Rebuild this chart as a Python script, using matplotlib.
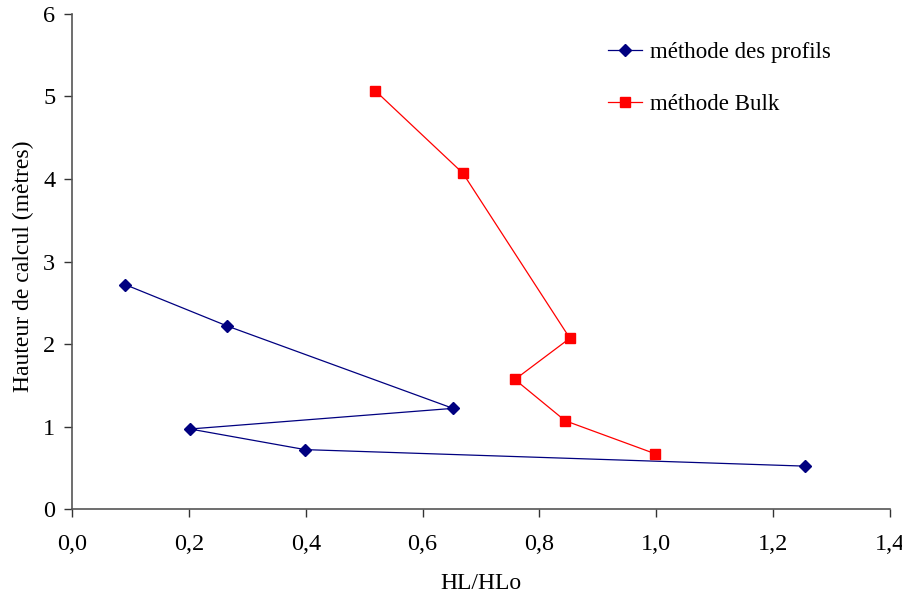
import matplotlib.pyplot as plt
from matplotlib.ticker import FuncFormatter

plt.rcParams['font.family'] = ['Liberation Serif', 'DejaVu Serif']

# méthode des profils
profils_x = [0.091, 0.265, 0.652, 0.202, 0.399, 1.254]
profils_y = [2.72, 2.22, 1.22, 0.97, 0.72, 0.52]

# méthode Bulk
bulk_x = [0.519, 0.669, 0.852, 0.758, 0.844, 0.998]
bulk_y = [5.07, 4.07, 2.07, 1.57, 1.07, 0.67]

fig = plt.figure(figsize=(9.03, 5.95), dpi=100)
ax = fig.add_axes([0.0797, 0.1445, 0.906, 0.832])

ax.plot(profils_x, profils_y, color='#000080', lw=0.9, marker='D', ms=6,
        label='méthode des profils')
ax.plot(bulk_x, bulk_y, color='#ff0000', lw=0.9, marker='s', ms=7,
        label='méthode Bulk')

ax.set_xlim(0, 1.4)
ax.set_ylim(0, 6)
ax.set_xticks([0, 0.2, 0.4, 0.6, 0.8, 1.0, 1.2, 1.4])
ax.set_yticks(range(7))
ax.xaxis.set_major_formatter(FuncFormatter(lambda v, p: f"{v:.1f}".replace('.', ',')))

for s in ['top', 'right']:
    ax.spines[s].set_visible(False)
for s in ['left', 'bottom']:
    ax.spines[s].set_color('#555555')
    ax.spines[s].set_linewidth(1.2)
ax.tick_params(direction='out', length=6, width=1, colors='#333333',
               labelcolor='black', labelsize=17.5)
ax.tick_params(axis='x', pad=12)
ax.tick_params(axis='y', pad=6)

ax.set_xlabel('HL/HLo', fontsize=17, labelpad=13)
ax.set_ylabel('Hauteur de calcul (mètres)', fontsize=17)
ax.yaxis.set_label_coords(-0.046, 0.49)

ax.legend(loc='upper left', bbox_to_anchor=(0.63, 0.985), frameon=False,
          fontsize=16.5, labelspacing=1.35, handlelength=1.5, handletextpad=0.35)

fig.savefig('out.png', dpi=100)
